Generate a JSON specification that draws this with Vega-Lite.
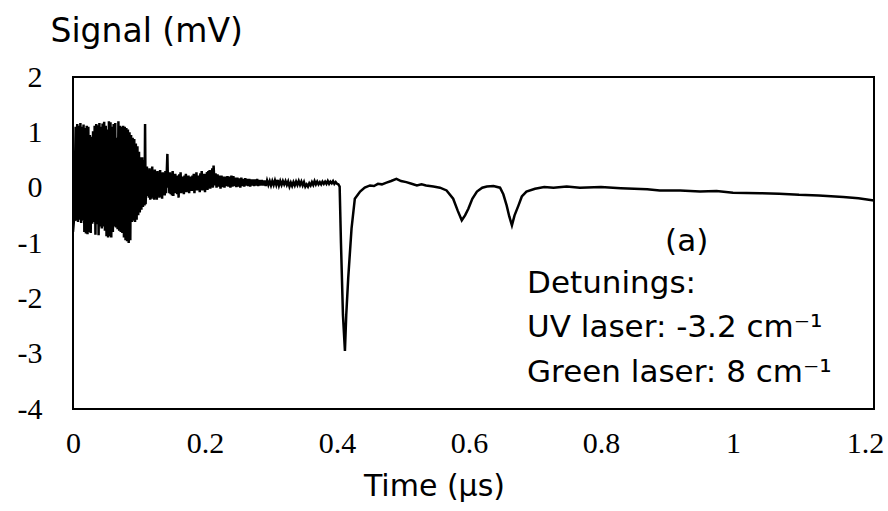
{
  "$schema": "https://vega.github.io/schema/vega-lite/v6.json",
  "width": 801,
  "height": 332,
  "autosize": {"type": "none"},
  "padding": {"left": 73, "top": 77, "right": 14, "bottom": 102},
  "background": "white",
  "config": {
    "view": {"stroke": "black", "strokeWidth": 2},
    "axis": {"grid": false, "domain": false, "ticks": false, "tickSize": 0, "labelFlush": false, "labelOverlap": false, "labelColor": "black", "titleColor": "black", "titleFontWeight": "normal"}
  },
  "encoding": {
    "x": {
      "field": "t", "type": "quantitative",
      "scale": {"domain": [0, 1.2136], "nice": false, "zero": false},
      "axis": {
        "title": "Time (μs)", "values": [0, 0.2, 0.4, 0.6, 0.8, 1, 1.2],
        "labelExpr": "'' + datum.value",
        "labelFont": "Liberation Serif", "labelFontSize": 30, "labelPadding": 19,
        "titleFont": "DejaVu Sans", "titleFontSize": 30,
        "titleX": 361, "titleY": 86, "titleAlign": "center", "titleBaseline": "alphabetic", "titleAnchor": "start"
      }
    },
    "y": {
      "field": "v", "type": "quantitative",
      "scale": {"domain": [-4, 2], "nice": false, "zero": false},
      "axis": {
        "title": "Signal (mV)", "values": [-4, -3, -2, -1, 0, 1, 2],
        "labelExpr": "'' + datum.value",
        "labelFont": "Liberation Serif", "labelFontSize": 30, "labelPadding": 31,
        "titleFont": "DejaVu Sans", "titleFontSize": 33,
        "titleAngle": 0, "titleX": -23, "titleY": -36, "titleAlign": "left", "titleBaseline": "alphabetic", "titleAnchor": "start"
      }
    }
  },
  "layer": [
    {
      "data": {"values": [
        {"t": 0.000, "v": -0.8}, {"t": 0.002, "v": -0.5},
        {"t": 0.004, "v": 1.10}, {"t": 0.0052, "v": -0.60}, {"t": 0.0064, "v": 1.15}, {"t": 0.0076, "v": -0.62},
        {"t": 0.0088, "v": 1.12}, {"t": 0.010, "v": -0.58}, {"t": 0.0112, "v": 1.17}, {"t": 0.0124, "v": -0.64},
        {"t": 0.0136, "v": 1.10}, {"t": 0.0148, "v": -0.60}, {"t": 0.016, "v": 1.14}, {"t": 0.0172, "v": -0.80},
        {"t": 0.0184, "v": 1.08}, {"t": 0.0196, "v": -0.83}, {"t": 0.0208, "v": 1.12}, {"t": 0.022, "v": -0.84},
        {"t": 0.0232, "v": 1.10}, {"t": 0.0244, "v": -0.80}, {"t": 0.0256, "v": 0.95}, {"t": 0.0268, "v": -0.82},
        {"t": 0.028, "v": 0.92}, {"t": 0.0292, "v": -0.65}, {"t": 0.0304, "v": 1.02}, {"t": 0.0316, "v": -0.62},
        {"t": 0.0328, "v": 1.12}, {"t": 0.034, "v": -0.85}, {"t": 0.0352, "v": 1.15}, {"t": 0.0364, "v": -0.66},
        {"t": 0.0376, "v": 1.13}, {"t": 0.0388, "v": -0.86}, {"t": 0.04, "v": 1.17}, {"t": 0.0412, "v": -0.70},
        {"t": 0.0424, "v": 1.10}, {"t": 0.0436, "v": -0.74}, {"t": 0.0448, "v": 1.16}, {"t": 0.046, "v": -0.70},
        {"t": 0.0472, "v": 1.19}, {"t": 0.0484, "v": -0.78}, {"t": 0.0496, "v": 1.12}, {"t": 0.0508, "v": -0.88},
        {"t": 0.052, "v": 1.05}, {"t": 0.0532, "v": -0.90}, {"t": 0.0544, "v": 1.20}, {"t": 0.0556, "v": -0.88},
        {"t": 0.0568, "v": 1.18}, {"t": 0.058, "v": -0.90}, {"t": 0.0592, "v": 1.10}, {"t": 0.0604, "v": -0.80},
        {"t": 0.0616, "v": 1.15}, {"t": 0.0628, "v": -0.70}, {"t": 0.064, "v": 1.17}, {"t": 0.0652, "v": -0.72},
        {"t": 0.0664, "v": 0.90}, {"t": 0.0676, "v": -0.75}, {"t": 0.0688, "v": 1.20}, {"t": 0.07, "v": -0.78},
        {"t": 0.0712, "v": 1.12}, {"t": 0.0724, "v": -0.80}, {"t": 0.0736, "v": 1.10}, {"t": 0.0748, "v": -0.82},
        {"t": 0.076, "v": 1.12}, {"t": 0.0772, "v": -0.90}, {"t": 0.0784, "v": 1.10}, {"t": 0.0796, "v": -0.95},
        {"t": 0.0808, "v": 1.08}, {"t": 0.082, "v": -0.97}, {"t": 0.0832, "v": 1.05}, {"t": 0.0844, "v": -1.00},
        {"t": 0.0856, "v": 1.00}, {"t": 0.0868, "v": -0.95}, {"t": 0.088, "v": 0.95}, {"t": 0.0892, "v": -0.62},
        {"t": 0.0904, "v": 0.90}, {"t": 0.0916, "v": -0.60}, {"t": 0.0928, "v": 0.88}, {"t": 0.094, "v": -0.62},
        {"t": 0.0952, "v": 0.80}, {"t": 0.0964, "v": -0.58}, {"t": 0.0976, "v": 0.75}, {"t": 0.0988, "v": -0.50},
        {"t": 0.1, "v": 0.65}, {"t": 0.1012, "v": -0.45}, {"t": 0.1024, "v": 0.55}, {"t": 0.1036, "v": -0.40},
        {"t": 0.1048, "v": 0.55}, {"t": 0.106, "v": -0.35}, {"t": 0.1072, "v": 0.50}, {"t": 0.1084, "v": -0.32},
        {"t": 0.1092, "v": 1.15}, {"t": 0.1100, "v": -0.30}, {"t": 0.112, "v": 0.38},
        {"t": 0.113, "v": -0.15}, {"t": 0.114, "v": 0.30}, {"t": 0.115, "v": -0.18}, {"t": 0.116, "v": 0.35},
        {"t": 0.117, "v": -0.22}, {"t": 0.118, "v": 0.32}, {"t": 0.119, "v": -0.20}, {"t": 0.12, "v": 0.38},
        {"t": 0.121, "v": -0.16}, {"t": 0.122, "v": 0.30}, {"t": 0.123, "v": -0.22}, {"t": 0.124, "v": 0.33},
        {"t": 0.125, "v": -0.18}, {"t": 0.126, "v": 0.28}, {"t": 0.127, "v": -0.22}, {"t": 0.128, "v": 0.30},
        {"t": 0.129, "v": -0.14}, {"t": 0.13, "v": 0.26}, {"t": 0.131, "v": -0.18}, {"t": 0.132, "v": 0.32},
        {"t": 0.133, "v": -0.16}, {"t": 0.134, "v": 0.25}, {"t": 0.135, "v": -0.20}, {"t": 0.136, "v": 0.28},
        {"t": 0.137, "v": -0.12}, {"t": 0.138, "v": 0.26}, {"t": 0.139, "v": -0.14}, {"t": 0.14, "v": 0.30},
        {"t": 0.141, "v": -0.10}, {"t": 0.142, "v": 0.25}, {"t": 0.143, "v": 0.61},
        {"t": 0.144, "v": 0.00}, {"t": 0.145, "v": 0.25}, {"t": 0.146, "v": -0.10}, {"t": 0.147, "v": 0.28},
        {"t": 0.148, "v": -0.12}, {"t": 0.149, "v": 0.24}, {"t": 0.15, "v": -0.14}, {"t": 0.151, "v": 0.30},
        {"t": 0.152, "v": -0.15}, {"t": 0.153, "v": 0.22}, {"t": 0.154, "v": -0.08}, {"t": 0.155, "v": 0.25},
        {"t": 0.156, "v": -0.10}, {"t": 0.157, "v": 0.20}, {"t": 0.158, "v": -0.12}, {"t": 0.159, "v": 0.22},
        {"t": 0.16, "v": -0.18}, {"t": 0.161, "v": 0.24}, {"t": 0.162, "v": -0.08}, {"t": 0.163, "v": 0.28},
        {"t": 0.164, "v": -0.10}, {"t": 0.165, "v": 0.18}, {"t": 0.166, "v": -0.06}, {"t": 0.167, "v": 0.20},
        {"t": 0.168, "v": -0.12}, {"t": 0.169, "v": 0.22}, {"t": 0.17, "v": -0.06}, {"t": 0.171, "v": 0.25},
        {"t": 0.172, "v": -0.08}, {"t": 0.173, "v": 0.20}, {"t": 0.174, "v": -0.05}, {"t": 0.175, "v": 0.22},
        {"t": 0.176, "v": -0.10}, {"t": 0.177, "v": 0.18}, {"t": 0.178, "v": -0.04}, {"t": 0.179, "v": 0.20},
        {"t": 0.18, "v": -0.06}, {"t": 0.181, "v": 0.22}, {"t": 0.182, "v": -0.03}, {"t": 0.183, "v": 0.25},
        {"t": 0.184, "v": -0.10}, {"t": 0.185, "v": 0.22}, {"t": 0.186, "v": -0.04}, {"t": 0.187, "v": 0.28},
        {"t": 0.188, "v": -0.05}, {"t": 0.189, "v": 0.20}, {"t": 0.19, "v": -0.02}, {"t": 0.191, "v": 0.22},
        {"t": 0.192, "v": -0.08}, {"t": 0.193, "v": 0.26}, {"t": 0.194, "v": -0.03}, {"t": 0.195, "v": 0.30},
        {"t": 0.196, "v": -0.05}, {"t": 0.197, "v": 0.24}, {"t": 0.198, "v": -0.02}, {"t": 0.199, "v": 0.25},
        {"t": 0.2, "v": -0.08}, {"t": 0.201, "v": 0.22}, {"t": 0.202, "v": -0.02}, {"t": 0.203, "v": 0.28},
        {"t": 0.204, "v": -0.04}, {"t": 0.205, "v": 0.30}, {"t": 0.206, "v": 0.00}, {"t": 0.207, "v": 0.32},
        {"t": 0.208, "v": -0.02}, {"t": 0.209, "v": 0.30}, {"t": 0.21, "v": 0.02}, {"t": 0.211, "v": 0.35},
        {"t": 0.212, "v": 0.00}, {"t": 0.213, "v": 0.40}, {"t": 0.2145, "v": 0.04},
        {"t": 0.216, "v": 0.26}, {"t": 0.2175, "v": 0.00}, {"t": 0.219, "v": 0.24}, {"t": 0.2205, "v": 0.02},
        {"t": 0.222, "v": 0.22}, {"t": 0.2235, "v": -0.02}, {"t": 0.225, "v": 0.22}, {"t": 0.2265, "v": 0.01},
        {"t": 0.228, "v": 0.20}, {"t": 0.2295, "v": 0.00}, {"t": 0.231, "v": 0.20}, {"t": 0.2325, "v": 0.03},
        {"t": 0.234, "v": 0.21}, {"t": 0.2355, "v": 0.02}, {"t": 0.237, "v": 0.20}, {"t": 0.2385, "v": 0.00},
        {"t": 0.24, "v": 0.22}, {"t": 0.2415, "v": 0.02}, {"t": 0.243, "v": 0.21}, {"t": 0.2445, "v": 0.03},
        {"t": 0.246, "v": 0.18}, {"t": 0.2475, "v": 0.01}, {"t": 0.249, "v": 0.18}, {"t": 0.2505, "v": 0.02},
        {"t": 0.252, "v": 0.17}, {"t": 0.2535, "v": 0.00}, {"t": 0.255, "v": 0.18}, {"t": 0.2565, "v": 0.03},
        {"t": 0.258, "v": 0.16}, {"t": 0.2595, "v": 0.02}, {"t": 0.261, "v": 0.17}, {"t": 0.2625, "v": 0.04},
        {"t": 0.264, "v": 0.16}, {"t": 0.2655, "v": 0.03}, {"t": 0.267, "v": 0.16}, {"t": 0.2685, "v": 0.02},
        {"t": 0.27, "v": 0.15}, {"t": 0.2715, "v": 0.04}, {"t": 0.273, "v": 0.15}, {"t": 0.2745, "v": 0.03},
        {"t": 0.276, "v": 0.15}, {"t": 0.2775, "v": 0.04}, {"t": 0.279, "v": 0.16}, {"t": 0.2805, "v": 0.03},
        {"t": 0.282, "v": 0.14}, {"t": 0.284, "v": 0.04},
        {"t": 0.286, "v": 0.14}, {"t": 0.288, "v": 0.04}, {"t": 0.29, "v": 0.13}, {"t": 0.292, "v": 0.03},
        {"t": 0.294, "v": 0.13}, {"t": 0.296, "v": 0.05}, {"t": 0.298, "v": 0.12}, {"t": 0.3, "v": 0.04},
        {"t": 0.302, "v": 0.12}, {"t": 0.304, "v": 0.05}, {"t": 0.306, "v": 0.13}, {"t": 0.308, "v": 0.05},
        {"t": 0.31, "v": 0.14}, {"t": 0.312, "v": 0.04}, {"t": 0.314, "v": 0.12}, {"t": 0.316, "v": 0.05},
        {"t": 0.318, "v": 0.12}, {"t": 0.32, "v": 0.06}, {"t": 0.322, "v": 0.12}, {"t": 0.324, "v": 0.05},
        {"t": 0.326, "v": 0.11}, {"t": 0.328, "v": 0.02}, {"t": 0.33, "v": 0.09}, {"t": 0.332, "v": 0.03},
        {"t": 0.334, "v": 0.10}, {"t": 0.336, "v": 0.04}, {"t": 0.338, "v": 0.11}, {"t": 0.34, "v": 0.05},
        {"t": 0.342, "v": 0.12}, {"t": 0.344, "v": 0.05}, {"t": 0.346, "v": 0.11}, {"t": 0.348, "v": 0.04},
        {"t": 0.35, "v": 0.10}, {"t": 0.352, "v": 0.02}, {"t": 0.354, "v": 0.06}, {"t": 0.356, "v": 0.02},
        {"t": 0.358, "v": 0.08}, {"t": 0.36, "v": 0.04}, {"t": 0.362, "v": 0.10}, {"t": 0.364, "v": 0.05},
        {"t": 0.366, "v": 0.12}, {"t": 0.368, "v": 0.06}, {"t": 0.37, "v": 0.11}, {"t": 0.372, "v": 0.06},
        {"t": 0.374, "v": 0.10}, {"t": 0.376, "v": 0.06}, {"t": 0.378, "v": 0.11}, {"t": 0.38, "v": 0.07},
        {"t": 0.382, "v": 0.11}, {"t": 0.384, "v": 0.07}, {"t": 0.386, "v": 0.12}, {"t": 0.388, "v": 0.07},
        {"t": 0.39, "v": 0.11}, {"t": 0.392, "v": 0.08}, {"t": 0.394, "v": 0.12}, {"t": 0.396, "v": 0.07},
        {"t": 0.398, "v": 0.10}, {"t": 0.4, "v": 0.07}, {"t": 0.402, "v": 0.06}, {"t": 0.404, "v": 0.02},
        {"t": 0.406, "v": -1.00}, {"t": 0.409, "v": -2.30}, {"t": 0.412, "v": -2.95}, {"t": 0.414, "v": -2.30},
        {"t": 0.417, "v": -1.63}, {"t": 0.422, "v": -0.74}, {"t": 0.427, "v": -0.20}, {"t": 0.435, "v": -0.07},
        {"t": 0.442, "v": 0.00}, {"t": 0.45, "v": 0.04}, {"t": 0.456, "v": 0.03}, {"t": 0.462, "v": 0.07},
        {"t": 0.468, "v": 0.06}, {"t": 0.475, "v": 0.09}, {"t": 0.482, "v": 0.12}, {"t": 0.49, "v": 0.16},
        {"t": 0.497, "v": 0.12}, {"t": 0.505, "v": 0.10}, {"t": 0.513, "v": 0.07}, {"t": 0.521, "v": 0.04},
        {"t": 0.528, "v": 0.06}, {"t": 0.535, "v": 0.04}, {"t": 0.546, "v": 0.02}, {"t": 0.556, "v": 0.00},
        {"t": 0.566, "v": -0.05}, {"t": 0.576, "v": -0.20}, {"t": 0.583, "v": -0.42}, {"t": 0.589, "v": -0.59},
        {"t": 0.594, "v": -0.50}, {"t": 0.599, "v": -0.38}, {"t": 0.605, "v": -0.20}, {"t": 0.612, "v": -0.07},
        {"t": 0.62, "v": 0.00}, {"t": 0.627, "v": 0.02}, {"t": 0.637, "v": 0.03}, {"t": 0.647, "v": 0.00},
        {"t": 0.652, "v": -0.12}, {"t": 0.657, "v": -0.32}, {"t": 0.661, "v": -0.52}, {"t": 0.665, "v": -0.68},
        {"t": 0.669, "v": -0.50}, {"t": 0.675, "v": -0.32}, {"t": 0.68, "v": -0.16}, {"t": 0.687, "v": -0.07},
        {"t": 0.7, "v": -0.02}, {"t": 0.714, "v": 0.01}, {"t": 0.728, "v": 0.00}, {"t": 0.748, "v": 0.02},
        {"t": 0.768, "v": 0.00}, {"t": 0.8, "v": 0.01}, {"t": 0.83, "v": -0.01}, {"t": 0.85, "v": -0.02},
        {"t": 0.87, "v": -0.03}, {"t": 0.889, "v": -0.05}, {"t": 0.92, "v": -0.05}, {"t": 0.95, "v": -0.07},
        {"t": 0.975, "v": -0.06}, {"t": 1.0, "v": -0.09}, {"t": 1.041, "v": -0.10}, {"t": 1.07, "v": -0.11},
        {"t": 1.1, "v": -0.13}, {"t": 1.13, "v": -0.14}, {"t": 1.167, "v": -0.17}, {"t": 1.19, "v": -0.19},
        {"t": 1.2136, "v": -0.23}
      ]},
      "mark": {"type": "line", "color": "black", "strokeWidth": 2.5, "clip": true}
    },
    {
      "data": {"values": [
        {"t": 0.897, "v": -0.98, "label": "(a)"},
        {"t": 0.688, "v": -1.74, "label": "Detunings:"},
        {"t": 0.688, "v": -2.53, "label": "UV laser: -3.2 cm⁻¹"},
        {"t": 0.688, "v": -3.35, "label": "Green laser: 8 cm⁻¹"}
      ]},
      "mark": {"type": "text", "align": "left", "baseline": "middle", "font": "DejaVu Sans", "fontSize": 31, "color": "black"},
      "encoding": {"text": {"field": "label", "type": "nominal"}}
    }
  ]
}
